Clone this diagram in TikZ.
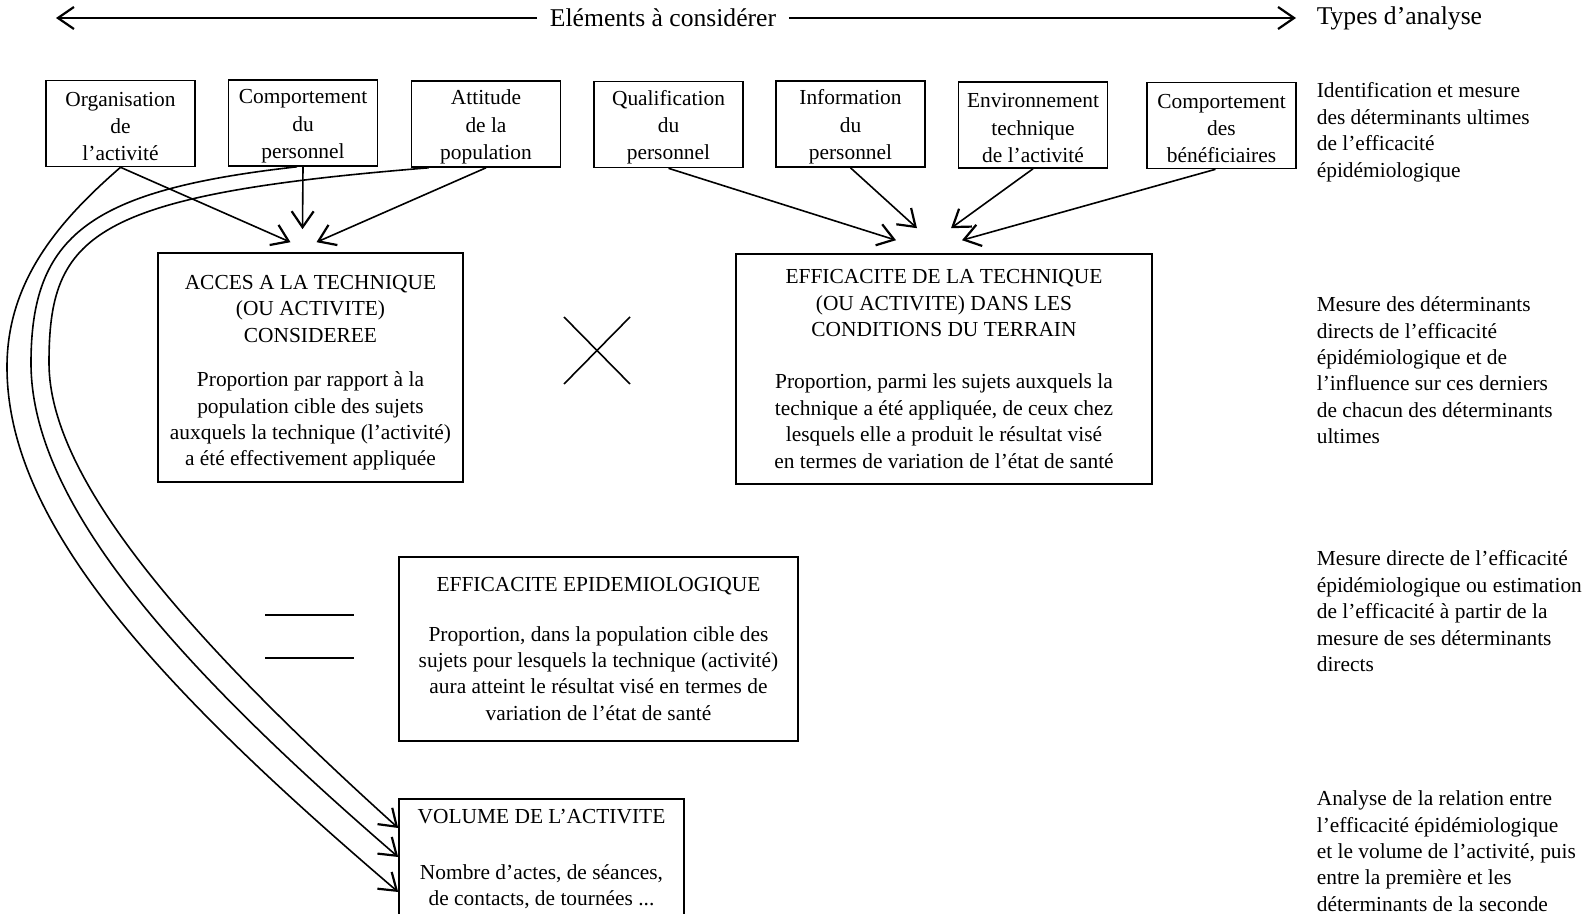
\documentclass[tikz,border=0pt]{standalone}
\usepackage{fontspec}
\setmainfont{Liberation Serif}
\usetikzlibrary{arrows.meta}
\newcommand{\hautligne}{\rule{0pt}{10.3pt}}

\begin{document}
\begin{tikzpicture}[x=0.5pt, y=-0.5pt, line width=0.8pt,
        txt/.style={font=\fontsize{10.7}{13.2}\selectfont},
        head/.style={font=\fontsize{12.8}{15}\selectfont, inner ysep=0pt},
        small/.style={draw, font=\fontsize{10.7}{13.6}\selectfont, align=center, minimum width=74.5pt, minimum height=43pt, inner sep=0pt},
        big/.style={draw, txt, align=center, inner sep=0pt},
        note/.style={txt, align=left, anchor=north west, inner sep=0pt},
        arr/.style={-{Straight Barb[length=8pt, width=11pt, line width=1.1pt]}}]
        \useasboundingbox (0, 0) rectangle (1587, 914);
        \clip (0, 0) rectangle (1587, 914);
        \node[head, inner xsep=6pt] (elem) at (663, 18) {Eléments à considérer};
        \node[head, inner xsep=0pt, anchor=west] (types) at (1316, 18) {Types d’analyse};
        \coordinate (gauche) at (56, 18);
        \draw[arr] (elem.west) -- (gauche);
        \draw[arr, shorten >=10pt] (elem.east) -- (elem.east -| types.west);
        \node[small] (org) at (120.5, 123.5) {\hautligne Organisation\\de\\l’activité};
        \node[small] (perso) at (303, 123) {\hautligne Comportement\\du\\personnel};
        \node[small] (attit) at (486, 124) {\hautligne Attitude\\de la\\population};
        \node[small] (qualif) at (668.5, 124.5) {\hautligne Qualification\\du\\personnel};
        \node[small] (info) at (850.5, 124) {\hautligne Information\\du\\personnel};
        \node[small] (envir) at (1033, 125) {\hautligne Environnement\\technique\\de l’activité};
        \node[small] (benef) at (1221.5, 125.5) {\hautligne Comportement\\des\\bénéficiaires};
        \node[big, minimum width=152.5pt, minimum height=114.5pt] (acces) at (310.5, 367.5) {\rule{0pt}{12.4pt}ACCES A LA TECHNIQUE\\(OU ACTIVITE)\\CONSIDEREE\\[9pt] Proportion par rapport à la\\population cible des sujets\\auxquels la technique (l’activité)\\a été effectivement appliquée};
        \node[big, minimum width=208pt, minimum height=115pt] (terrain) at (944, 369) {EFFICACITE DE LA TECHNIQUE\\(OU ACTIVITE) DANS LES\\CONDITIONS DU TERRAIN\\[13pt] Proportion, parmi les sujets auxquels la\\technique a été appliquée, de ceux chez\\lesquels elle a produit le résultat visé\\en termes de variation de l’état de santé};
        \node[big, minimum width=199.5pt, minimum height=92pt] (epid) at (598.5, 649) {EFFICACITE EPIDEMIOLOGIQUE\\[11.5pt] Proportion, dans la population cible des\\sujets pour lesquels la technique (activité)\\aura atteint le résultat visé en termes de\\variation de l’état de santé};
        \node[big, minimum width=142.5pt, inner ysep=5pt, anchor=north] (volume) at (541.5, 798) {VOLUME DE L’ACTIVITE\\[14.8pt] Nombre d’actes, de séances,\\de contacts, de tournées ...};
        \draw (564, 317) -- (630, 384);
        \draw (564, 384) -- (630, 317);
        \draw[line width=1pt] (265, 615) -- (354, 615);
        \draw[line width=1pt] (265, 658) -- (354, 658);
        \draw[arr] (org.south) -- ([shift={(-20, -10)}]acces.north);
        \draw[arr] (perso.south) -- ([shift={(-8, -23)}]acces.north);
        \draw[arr] (attit.south) -- ([shift={(6, -10)}]acces.north);
        \draw[arr] (qualif.south) -- ([shift={(-48, -13)}]terrain.north);
        \draw[arr] (info.south) -- ([shift={(-27, -25)}]terrain.north);
        \draw[arr] (envir.south) -- ([shift={(7, -25)}]terrain.north);
        \draw[arr] ([xshift=-3pt]benef.south) -- ([shift={(18, -13)}]terrain.north);
        \draw[arr] (org.south) .. controls (60, 220) and (7, 280) .. (7, 367) .. controls (7, 520) and (150, 680) .. ([yshift=-47pt]volume.north west);
        \draw[arr] ([xshift=-3pt]perso.south) .. controls (90, 190) and (31, 235) .. (31, 363) .. controls (31, 500) and (170, 660) .. ([yshift=-29.5pt]volume.north west);
        \draw[arr] ([xshift=9pt]attit.south west) .. controls (90, 195) and (49, 235) .. (49, 363) .. controls (49, 480) and (190, 640) .. ([yshift=-15pt]volume.north west);
        \node[note] (ana1) at (1316, 82) {Identification et mesure\\des déterminants ultimes\\de l’efficacité\\épidémiologique};
        \node[note] (ana2) at (1316, 296) {Mesure des déterminants\\directs de l’efficacité\\épidémiologique et de\\l’influence sur ces derniers\\de chacun des déterminants\\ultimes};
        \node[note] (ana3) at (1316, 550) {Mesure directe de l’efficacité\\épidémiologique ou estimation\\de l’efficacité à partir de la\\mesure de ses déterminants\\directs};
        \node[note] (ana4) at (1316, 790) {Analyse de la relation entre\\l’efficacité épidémiologique\\et le volume de l’activité, puis\\entre la première et les\\déterminants de la seconde};
    \end{tikzpicture}
\end{document}
